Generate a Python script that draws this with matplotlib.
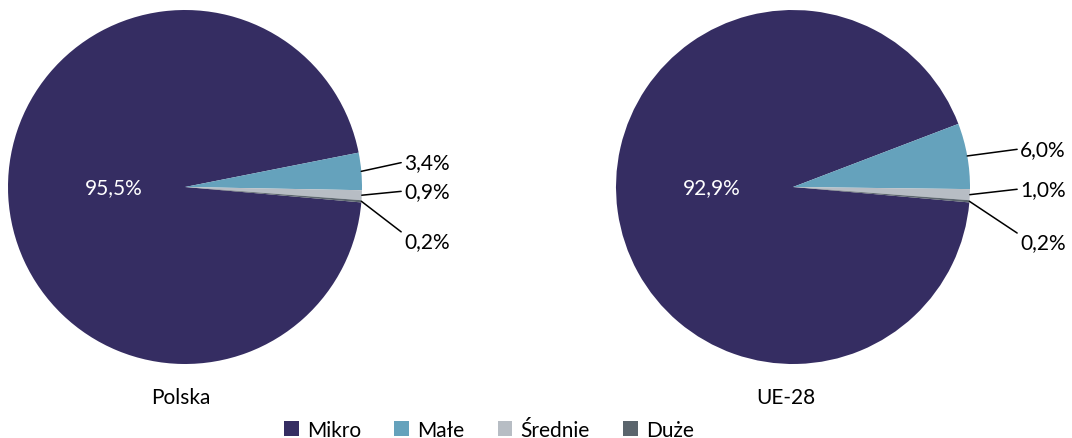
import matplotlib
matplotlib.use("Agg")
import matplotlib.pyplot as plt
import numpy as np

plt.rcParams['font.family'] = ['Lato', 'DejaVu Sans']

categories = ["Mikro", "Małe", "Średnie", "Duże"]
colors = ["#352D62", "#65A2BC", "#B7BDC4", "#5B656D"]
polska = [95.5, 3.4, 0.9, 0.2]
ue28 = [92.9, 6.0, 1.0, 0.2]
titles = ["Polska", "UE-28"]
labels_pl = ["95,5%", "3,4%", "0,9%", "0,2%"]
labels_ue = ["92,9%", "6,0%", "1,0%", "0,2%"]

W, H = 1072, 439
fig = plt.figure(figsize=(W / 100, H / 100), dpi=100)

R = 177
configs = [
    dict(vals=polska, labels=labels_pl, cx=185, cy=188, inner=(-0.40, 0.0),
         outs=[(1.237, 0.141), (1.237, -0.023), (1.237, -0.305)], title_x=181),
    dict(vals=ue28, labels=labels_ue, cx=793, cy=188, inner=(-0.46, 0.0),
         outs=[(1.282, 0.215), (1.282, -0.011), (1.282, -0.31)], title_x=786),
]

fs = 15
wedges_all = None
for i, c in enumerate(configs):
    ax = fig.add_axes([(c['cx'] - R) / W, (H - c['cy'] - R) / H, 2 * R / W, 2 * R / H])
    wedges, _ = ax.pie(c['vals'], colors=colors, startangle=-5, counterclock=False,
                       radius=1.0, wedgeprops=dict(linewidth=0))
    if wedges_all is None:
        wedges_all = wedges
    ax.set_xlim(-1, 1)
    ax.set_ylim(-1, 1)
    ax.set_aspect('auto')
    ax.axis('off')
    ax.text(c['inner'][0], c['inner'][1], c['labels'][0], color='white', fontsize=fs,
            ha='center', va='center')
    for j in range(1, 4):
        w = wedges[j]
        ang = np.deg2rad((w.theta1 + w.theta2) / 2)
        x0, y0 = np.cos(ang), np.sin(ang)
        tx, ty = c['outs'][j - 1]
        if j == 3:
            lx, ly = tx - 0.04, ty + 0.02
        else:
            lx, ly = tx - 0.025, ty
        ax.annotate(c['labels'][j], xy=(x0, y0), xytext=(tx, ty), fontsize=fs,
                    ha='left', va='center', color='#000000',
                    arrowprops=dict(arrowstyle='-', color='black', lw=1.1,
                                    shrinkA=0, shrinkB=0,
                                    relpos=(0, 0.5) if j != 3 else (0, 0.85)),
                    annotation_clip=False)
    fig.text(c['title_x'] / W, 1 - 398 / H, titles[i], fontsize=fs, ha='center', va='center')

fig.legend(wedges_all, categories, loc='center', bbox_to_anchor=(489 / W, 1 - 431 / H),
           ncol=4, frameon=False, fontsize=fs, handlelength=0.7, handleheight=0.7,
           handletextpad=0.4, columnspacing=1.6, borderpad=0)

fig.savefig("out.png", dpi=100)
